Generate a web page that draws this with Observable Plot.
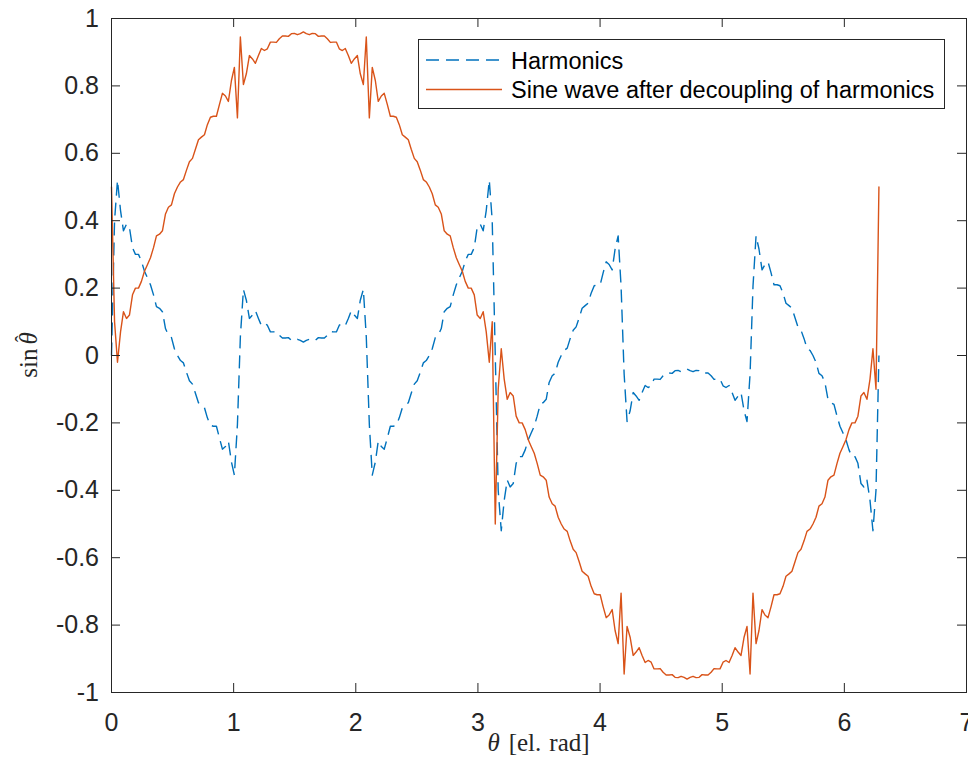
<!DOCTYPE html>
<html><head><meta charset="utf-8">
<script src="https://cdn.jsdelivr.net/npm/d3@7"></script>
<script src="https://cdn.jsdelivr.net/npm/@observablehq/plot@0.6"></script>
<style>html,body{margin:0;padding:0;background:#fff;} #chart{width:968px;height:766px;}</style>
</head><body><div id="chart"></div>
<script>
// electrical angle samples [el. rad]
const theta = [0,0.025,0.049,0.074,0.098,0.123,0.147,0.172,0.196,0.221,
0.245,0.270,0.295,0.319,0.344,0.368,0.393,0.417,0.442,0.466,
0.491,0.515,0.540,0.565,0.589,0.614,0.638,0.663,0.687,0.712,
0.736,0.761,0.785,0.810,0.834,0.859,0.884,0.908,0.933,0.957,
0.982,1.006,1.031,1.055,1.080,1.104,1.129,1.154,1.178,1.203,
1.227,1.252,1.276,1.301,1.325,1.350,1.374,1.399,1.424,1.448,
1.473,1.497,1.522,1.546,1.571,1.595,1.620,1.644,1.669,1.694,
1.718,1.743,1.767,1.792,1.816,1.841,1.865,1.890,1.914,1.939,
1.963,1.988,2.013,2.037,2.062,2.086,2.111,2.135,2.160,2.184,
2.209,2.233,2.258,2.283,2.307,2.332,2.356,2.381,2.405,2.430,
2.454,2.479,2.503,2.528,2.553,2.577,2.602,2.626,2.651,2.675,
2.700,2.724,2.749,2.773,2.798,2.823,2.847,2.872,2.896,2.921,
2.945,2.970,2.994,3.019,3.043,3.068,3.093,3.117,3.142,3.166,
3.191,3.215,3.240,3.264,3.289,3.313,3.338,3.362,3.387,3.412,
3.436,3.461,3.485,3.510,3.534,3.559,3.583,3.608,3.632,3.657,
3.682,3.706,3.731,3.755,3.780,3.804,3.829,3.853,3.878,3.902,
3.927,3.952,3.976,4.001,4.025,4.050,4.074,4.099,4.123,4.148,
4.172,4.197,4.221,4.246,4.271,4.295,4.320,4.344,4.369,4.393,
4.418,4.442,4.467,4.492,4.516,4.541,4.565,4.590,4.614,4.639,
4.663,4.688,4.712,4.737,4.761,4.786,4.811,4.835,4.860,4.884,
4.909,4.933,4.958,4.982,5.007,5.031,5.056,5.081,5.105,5.130,
5.154,5.179,5.203,5.228,5.252,5.277,5.301,5.326,5.350,5.375,
5.400,5.424,5.449,5.473,5.498,5.522,5.547,5.571,5.596,5.620,
5.645,5.670,5.694,5.719,5.743,5.768,5.792,5.817,5.841,5.866,
5.890,5.915,5.940,5.964,5.989,6.013,6.038,6.062,6.087,6.111,
6.136,6.160,6.185,6.210,6.234,6.259,6.283];

// "Harmonics" (dashed blue)
const harmonics = [0,0.40,0.52,0.43,0.37,0.39,0.38,0.32,0.30,0.30,
0.28,0.25,0.23,0.21,0.18,0.145,0.14,0.13,0.08,0.06,
0.053,0.02,0,-0.015,-0.022,-0.05,-0.075,-0.085,-0.112,-0.14,
-0.148,-0.155,-0.185,-0.207,-0.21,-0.21,-0.245,-0.278,-0.27,-0.254,
-0.316,-0.355,-0.205,0.055,0.196,0.164,0.11,0.12,0.133,0.11,
0.089,0.095,0.09,0.07,0.07,0.071,0.06,0.052,0.052,0.053,
0.045,0.044,0.048,0.045,0.04,0.045,0.048,0.044,0.045,0.053,
0.052,0.052,0.06,0.071,0.07,0.07,0.09,0.095,0.089,0.11,
0.133,0.12,0.11,0.164,0.196,0.055,-0.205,-0.355,-0.316,-0.254,
-0.27,-0.278,-0.245,-0.21,-0.21,-0.207,-0.185,-0.155,-0.148,-0.14,
-0.112,-0.085,-0.075,-0.05,-0.022,-0.015,0,0.02,0.053,0.06,
0.08,0.13,0.14,0.145,0.18,0.21,0.23,0.25,0.28,0.30,
0.30,0.32,0.38,0.39,0.37,0.43,0.52,0.40,0,-0.40,
-0.52,-0.43,-0.37,-0.39,-0.38,-0.32,-0.30,-0.30,-0.28,-0.25,
-0.23,-0.21,-0.18,-0.145,-0.14,-0.13,-0.08,-0.06,-0.053,-0.02,
0,0.015,0.022,0.05,0.075,0.085,0.112,0.14,0.148,0.155,
0.185,0.207,0.21,0.21,0.245,0.278,0.27,0.254,0.316,0.355,
0.205,-0.055,-0.196,-0.164,-0.11,-0.12,-0.133,-0.11,-0.089,-0.095,
-0.09,-0.07,-0.07,-0.071,-0.06,-0.052,-0.052,-0.053,-0.045,-0.044,
-0.048,-0.045,-0.04,-0.045,-0.048,-0.044,-0.045,-0.053,-0.052,-0.052,
-0.06,-0.071,-0.07,-0.07,-0.09,-0.095,-0.089,-0.11,-0.133,-0.12,
-0.11,-0.164,-0.196,-0.055,0.205,0.355,0.316,0.254,0.27,0.278,
0.245,0.21,0.21,0.207,0.185,0.155,0.148,0.14,0.112,0.085,
0.075,0.05,0.022,0.015,0,-0.02,-0.053,-0.06,-0.08,-0.13,
-0.14,-0.145,-0.18,-0.21,-0.23,-0.25,-0.28,-0.30,-0.30,-0.32,
-0.38,-0.39,-0.37,-0.43,-0.52,-0.40,0];

// "Sine wave after decoupling of harmonics" (solid orange)
const sineDecoupled = [0.50,0.10,-0.02,0.07,0.13,0.11,0.12,0.18,0.20,0.20,
0.22,0.25,0.27,0.29,0.32,0.355,0.36,0.37,0.42,0.44,
0.447,0.48,0.50,0.515,0.522,0.55,0.575,0.585,0.612,0.64,
0.648,0.655,0.685,0.707,0.71,0.71,0.745,0.778,0.77,0.754,
0.816,0.855,0.705,0.945,0.804,0.836,0.89,0.88,0.867,0.89,
0.911,0.905,0.91,0.93,0.93,0.929,0.94,0.948,0.948,0.947,
0.955,0.956,0.952,0.955,0.96,0.955,0.952,0.956,0.955,0.947,
0.948,0.948,0.94,0.929,0.93,0.93,0.91,0.905,0.911,0.89,
0.867,0.88,0.89,0.836,0.804,0.945,0.705,0.855,0.816,0.754,
0.77,0.778,0.745,0.71,0.71,0.707,0.685,0.655,0.648,0.64,
0.612,0.585,0.575,0.55,0.522,0.515,0.50,0.48,0.447,0.44,
0.42,0.37,0.36,0.355,0.32,0.29,0.27,0.25,0.22,0.20,
0.20,0.18,0.12,0.11,0.13,0.07,-0.02,0.10,-0.50,-0.10,
0.02,-0.07,-0.13,-0.11,-0.12,-0.18,-0.20,-0.20,-0.22,-0.25,
-0.27,-0.29,-0.32,-0.355,-0.36,-0.37,-0.42,-0.44,-0.447,-0.48,
-0.50,-0.515,-0.522,-0.55,-0.575,-0.585,-0.612,-0.64,-0.648,-0.655,
-0.685,-0.707,-0.71,-0.71,-0.745,-0.778,-0.77,-0.754,-0.816,-0.855,
-0.705,-0.945,-0.804,-0.836,-0.89,-0.88,-0.867,-0.89,-0.911,-0.905,
-0.91,-0.93,-0.93,-0.929,-0.94,-0.948,-0.948,-0.947,-0.955,-0.956,
-0.952,-0.955,-0.96,-0.955,-0.952,-0.956,-0.955,-0.947,-0.948,-0.948,
-0.94,-0.929,-0.93,-0.93,-0.91,-0.905,-0.911,-0.89,-0.867,-0.88,
-0.89,-0.836,-0.804,-0.945,-0.705,-0.855,-0.816,-0.754,-0.77,-0.778,
-0.745,-0.71,-0.71,-0.707,-0.685,-0.655,-0.648,-0.64,-0.612,-0.585,
-0.575,-0.55,-0.522,-0.515,-0.50,-0.48,-0.447,-0.44,-0.42,-0.37,
-0.36,-0.355,-0.32,-0.29,-0.27,-0.25,-0.22,-0.20,-0.20,-0.18,
-0.12,-0.11,-0.13,-0.07,0.02,-0.10,0.50];

const xTicks = [0,1,2,3,4,5,6,7];
const xTickLabels = ["0","1","2","3","4","5","6","7"];
const yTicks = [-1,-0.8,-0.6,-0.4,-0.2,0,0.2,0.4,0.6,0.8,1];
const yTickLabels = ["-1","-0.8","-0.6","-0.4","-0.2","0","0.2","0.4","0.6","0.8","1"];
const seriesNames = ["Harmonics","Sine wave after decoupling of harmonics"];
const seriesColors = ["#0072BD","#D95319"];

const width = 968, height = 766;
const mL = 111, mR = 2, mT = 18, mB = 74;
const frameW = width - mL - mR, frameH = height - mT - mB;
const tickLen = 9;
const axisColor = "#262626";

const rows = theta.map((t, i) => ({theta: t, h: harmonics[i], s: sineDecoupled[i]}));
const xLab = new Map(xTicks.map((v, i) => [v, xTickLabels[i]]));
const yLab = new Map(yTicks.map((v, i) => [v, yTickLabels[i]]));

const chart = Plot.plot({
  width, height,
  marginLeft: mL, marginRight: mR, marginTop: mT, marginBottom: mB,
  style: {fontFamily: "'Liberation Sans', Arial, Helvetica, sans-serif", fontSize: "25px", color: axisColor, background: "#fff", overflow: "visible"},
  x: {domain: [0, 7], label: null},
  y: {domain: [-1, 1], label: null},
  marks: [
    Plot.line(rows, {x: "theta", y: "h", stroke: seriesColors[0], strokeWidth: 1.4, strokeDasharray: "13,7", strokeLinecap: "butt"}),
    Plot.line(rows, {x: "theta", y: "s", stroke: seriesColors[1], strokeWidth: 1.4}),
    Plot.ruleX(xTicks, {x: d => d, insetTop: frameH - tickLen, stroke: axisColor}),
    Plot.ruleX(xTicks, {x: d => d, insetBottom: frameH - tickLen, stroke: axisColor}),
    Plot.ruleY(yTicks, {y: d => d, insetRight: frameW - tickLen, stroke: axisColor}),
    Plot.ruleY(yTicks, {y: d => d, insetLeft: frameW - tickLen, stroke: axisColor}),
    Plot.frame({stroke: axisColor, strokeWidth: 1}),
    Plot.axisX({ticks: xTicks, tickSize: 0, tickPadding: 21, tickFormat: d => xLab.get(d), label: null}),
    Plot.axisY({ticks: yTicks, tickSize: 0, tickPadding: 12.5, tickFormat: d => yLab.get(d), label: null})
  ]
});

const svgEl = chart.tagName.toLowerCase() === "svg" ? chart : chart.querySelector("svg");
document.getElementById("chart").appendChild(chart);
const svg = d3.select(svgEl);

// axis titles (LaTeX-like serif)
const serif = "'Liberation Serif', 'DejaVu Serif', serif";
const xt = svg.append("text").attr("x", mL + frameW / 2).attr("y", 751)
  .attr("text-anchor", "middle").attr("fill", axisColor)
  .style("font-family", serif).style("font-size", "25px");
xt.append("tspan").attr("font-style", "italic").text("θ");
xt.append("tspan").attr("dx", 9).text("[el.");
xt.append("tspan").attr("dx", 8).text("rad]");

const yt = svg.append("text").attr("transform", "translate(36.5,355) rotate(-90)")
  .attr("text-anchor", "middle").attr("fill", axisColor)
  .style("font-family", serif).style("font-size", "25px");
yt.append("tspan").text("sin");
yt.append("tspan").attr("dx", 4).attr("font-style", "italic").text("θ");
yt.append("tspan").attr("dx", -10).attr("dy", -7).style("font-size", "20px").text("\u02C6");

// legend
const lg = svg.append("g").attr("text-anchor", "start");
lg.append("rect").attr("x", 418.5).attr("y", 39.5).attr("width", 526).attr("height", 69)
  .attr("fill", "#fff").attr("stroke", axisColor).attr("stroke-width", 1);
seriesNames.forEach((name, i) => {
  const cy = 60 + i * 29.5;
  lg.append("line").attr("x1", 426).attr("x2", 502).attr("y1", cy).attr("y2", cy)
    .attr("stroke", seriesColors[i]).attr("stroke-width", 1.4)
    .attr("stroke-dasharray", i === 0 ? "13,7" : null);
  lg.append("text").attr("x", 511).attr("y", cy + 8.6).attr("fill", "#000")
    .attr("text-anchor", "start")
    .style("font-family", "'Liberation Sans', Arial, Helvetica, sans-serif").style("font-size", "23.5px")
    .text(name);
});
</script>
</body></html>
